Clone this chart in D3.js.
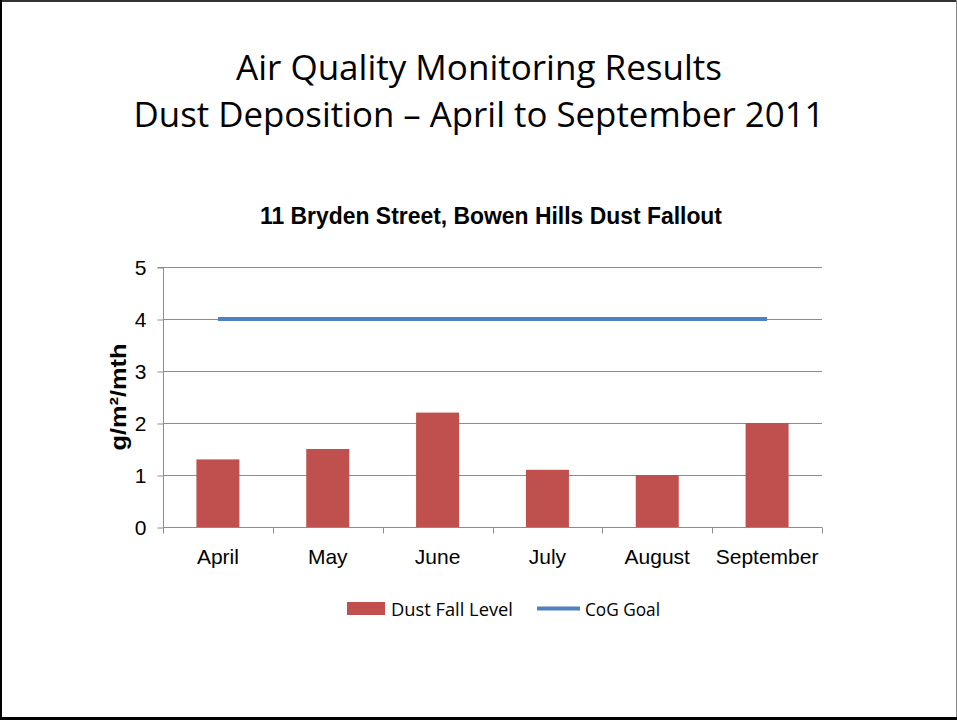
<!DOCTYPE html>
<html><head><meta charset="utf-8">
<script src="https://cdn.jsdelivr.net/npm/d3@7"></script>
<style>body{margin:0;background:#fff}svg{display:block}</style>
</head><body>
<script>
const categories = ["April","May","June","July","August","September"];
const dustFall = [1.3, 1.5, 2.2, 1.1, 1.0, 2.0];
const cogGoal = [4, 4, 4, 4, 4, 4];
const yTicks = [0,1,2,3,4,5];

(function(){
const W = 957, H = 720;
const svg = d3.select("body").append("svg").attr("width", W).attr("height", H);
svg.append("rect").attr("width", W).attr("height", H).attr("fill", "#fff");
// slide border
svg.append("line").attr("x1",0).attr("x2",W).attr("y1",1).attr("y2",1).attr("stroke","#333").attr("stroke-width",2);
svg.append("line").attr("x1",1).attr("x2",1).attr("y1",0).attr("y2",H).attr("stroke","#000").attr("stroke-width",2);
svg.append("line").attr("x1",956.5).attr("x2",956.5).attr("y1",0).attr("y2",H).attr("stroke","#888").attr("stroke-width",1);
svg.append("line").attr("x1",0).attr("x2",W).attr("y1",718.5).attr("y2",718.5).attr("stroke","#000").attr("stroke-width",3);

const titleFont = "'Open Sans', 'Noto Sans', sans-serif";
svg.append("text").attr("x",479).attr("y",80).attr("text-anchor","middle")
  .attr("font-family",titleFont).attr("font-size",35).attr("fill","#000")
  .attr("textLength",486).attr("lengthAdjust","spacingAndGlyphs")
  .text("Air Quality Monitoring Results");
svg.append("text").attr("x",479).attr("y",127).attr("text-anchor","middle")
  .attr("font-family",titleFont).attr("font-size",35).attr("fill","#000")
  .attr("textLength",691).attr("lengthAdjust","spacingAndGlyphs")
  .text("Dust Deposition – April to September 2011");

svg.append("text").attr("x",491).attr("y",224).attr("text-anchor","middle")
  .attr("font-family","'Liberation Sans', Arial, sans-serif").attr("font-weight","bold")
  .attr("font-size",24).attr("fill","#000")
  .attr("textLength",462).attr("lengthAdjust","spacingAndGlyphs")
  .text("11 Bryden Street, Bowen Hills Dust Fallout");

const pLeft = 163, pRight = 822, pTop = 267, pBottom = 527;
const x = d3.scaleBand().domain(categories).range([pLeft, pRight]).paddingInner(0).paddingOuter(0);
const y = d3.scaleLinear().domain([0,5]).range([pBottom, pTop]);

// gridlines
svg.append("g").selectAll("line").data(yTicks.filter(d=>d>0)).join("line")
  .attr("x1", pLeft).attr("x2", pRight)
  .attr("y1", d=>Math.round(y(d))+0.5).attr("y2", d=>Math.round(y(d))+0.5)
  .attr("stroke","#8c8c8c").attr("stroke-width",1);

// bars
const bw = 43;
svg.append("g").selectAll("rect").data(dustFall).join("rect")
  .attr("x",(d,i)=>x(categories[i]) + x.bandwidth()/2 - bw/2)
  .attr("width", bw)
  .attr("y", d=>y(d)).attr("height", d=>pBottom - y(d))
  .attr("fill","#C0504D");

// y axis
const yAxis = d3.axisLeft(y).tickValues(yTicks).tickSize(6).tickPadding(11).tickFormat(d3.format("d"));
const gy = svg.append("g").attr("transform",`translate(${pLeft+0.5},0.5)`).call(yAxis);
gy.select(".domain").attr("stroke","#8c8c8c").attr("d",`M-6,${pTop}H0V${pBottom}`);
gy.selectAll(".tick line").attr("stroke","#8c8c8c");
gy.selectAll(".tick text").attr("font-family","'Liberation Sans', Arial, sans-serif").attr("font-size",21).attr("fill","#000");

// x axis
const gx = svg.append("g").attr("transform",`translate(0,${pBottom+0.5})`);
gx.append("line").attr("x1",pLeft).attr("x2",pRight).attr("stroke","#8c8c8c");
const bounds = categories.map(c=>x(c)).concat([pRight]);
gx.selectAll("line.tk").data(bounds).join("line").attr("class","tk")
  .attr("x1",d=>Math.round(d)+0.5).attr("x2",d=>Math.round(d)+0.5).attr("y1",0).attr("y2",6)
  .attr("stroke","#8c8c8c");
gx.selectAll("text").data(categories).join("text")
  .attr("x",d=>x(d)+x.bandwidth()/2).attr("y",36).attr("text-anchor","middle")
  .attr("font-family","'Liberation Sans', Arial, sans-serif").attr("font-size",21).attr("fill","#000")
  .text(d=>d);

// goal line
const line = d3.line().x((d,i)=>x(categories[i])+x.bandwidth()/2).y(d=>y(d));
svg.append("path").datum(cogGoal).attr("d",line).attr("fill","none")
  .attr("stroke","#4F81BD").attr("stroke-width",4);

// y title
svg.append("text").attr("transform","translate(126,397) rotate(-90)").attr("text-anchor","middle")
  .attr("font-family","'Liberation Sans', Arial, sans-serif").attr("font-weight","bold")
  .attr("font-size",22).attr("fill","#000")
  .attr("textLength",107).attr("lengthAdjust","spacingAndGlyphs")
  .text("g/m²/mth");

// legend
const lf = "'Open Sans', 'Noto Sans', sans-serif";
svg.append("rect").attr("x",347).attr("y",602).attr("width",38).attr("height",13).attr("fill","#C0504D");
svg.append("text").attr("x",391).attr("y",616).attr("font-family",lf).attr("font-size",18).attr("fill","#000")
  .attr("textLength",122).attr("lengthAdjust","spacingAndGlyphs").text("Dust Fall Level");
svg.append("line").attr("x1",537).attr("x2",580).attr("y1",608.5).attr("y2",608.5).attr("stroke","#4F81BD").attr("stroke-width",4);
svg.append("text").attr("x",585).attr("y",616).attr("font-family",lf).attr("font-size",18).attr("fill","#000")
  .attr("textLength",75).attr("lengthAdjust","spacingAndGlyphs").text("CoG Goal");
})();
</script>
</body></html>
